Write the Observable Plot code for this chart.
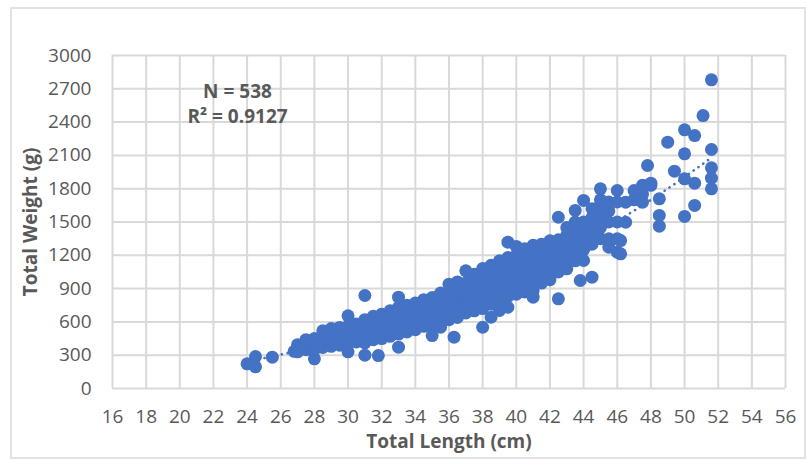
<!DOCTYPE html>
<html>
<head>
<meta charset="utf-8">
<script src="https://cdn.jsdelivr.net/npm/d3@7"></script>
<script src="https://cdn.jsdelivr.net/npm/@observablehq/plot@0.6"></script>
<style>
  body { margin: 0; background: #fff; }
  #chart { position: relative; width: 806px; height: 459px; }
  #border { position: absolute; left: 10px; top: 7px; width: 792px; height: 448px; border: 2px solid #e2e2e2; pointer-events: none; }
  #chart svg { position: absolute; left: 0; top: 0; }
</style>
</head>
<body>
<div id="chart"><div id="border"></div></div>
<script>
// Total length (cm) -> total weights (g), column by column
const columns = [
  [24.0, [222]], [24.5, [195, 288]], [25.5, [282]],
  [26.8, [335]], [27.0, [330, 366, 395]], [27.5, [350, 400, 440]],
  [28.0, [267, 350, 400, 450]], [28.5, [370, 420, 470, 520]],
  [29.0, [380, 430, 480, 540]], [29.5, [390, 440, 490, 550]],
  [30.0, [330, 400, 450, 500, 560, 655]], [30.5, [420, 470, 520, 580]],
  [31.0, [300, 410, 460, 510, 560, 620, 838]], [31.5, [440, 490, 540, 600, 650]],
  [31.8, [297]], [32.0, [450, 500, 550, 610, 670]], [32.5, [470, 520, 580, 640, 700]],
  [33.0, [372, 490, 540, 600, 660, 730, 823]], [33.5, [510, 570, 630, 690, 750]],
  [34.0, [530, 590, 650, 710, 770]], [34.5, [560, 620, 680, 740, 800]],
  [35.0, [477, 560, 620, 690, 750, 820]], [35.5, [552, 600, 660, 720, 790, 860]],
  [36.0, [620, 680, 740, 800, 870, 940]], [36.3, [462]],
  [36.5, [640, 700, 760, 830, 900, 960]], [37.0, [680, 740, 810, 880, 950, 1060]],
  [37.5, [700, 770, 840, 910, 980, 1030]], [38.0, [552, 720, 790, 860, 930, 1000, 1080]],
  [38.5, [642, 760, 830, 900, 970, 1040, 1110]], [39.0, [703, 800, 870, 940, 1010, 1080, 1150]],
  [39.5, [732, 830, 900, 970, 1040, 1110, 1180, 1318]], [40.0, [850, 920, 990, 1060, 1130, 1200, 1280]],
  [40.5, [870, 940, 1010, 1080, 1150, 1220, 1260]], [41.0, [823, 880, 940, 1000, 1070, 1140, 1210, 1290]],
  [41.5, [950, 1020, 1090, 1160, 1230, 1300]], [42.0, [980, 1050, 1120, 1190, 1260, 1330]],
  [42.5, [808, 1050, 1120, 1190, 1260, 1340, 1543]], [43.0, [1078, 1150, 1220, 1300, 1380, 1450]],
  [43.5, [1150, 1230, 1310, 1400, 1500, 1604]], [43.8, [973]],
  [44.0, [1153, 1250, 1340, 1420, 1500, 1694]], [44.5, [1003, 1300, 1380, 1460, 1540, 1620]],
  [45.0, [1350, 1450, 1550, 1650, 1700, 1799]], [45.5, [1273, 1349, 1500, 1600, 1680]],
  [46.0, [1228, 1349, 1500, 1680, 1784]], [46.2, [1213, 1333]], [46.5, [1498, 1679]],
  [47.0, [1700, 1784]], [47.5, [1679, 1750, 1830]], [47.8, [2009]], [48.0, [1830, 1850]],
  [48.5, [1462, 1559, 1709]], [49.0, [2219]], [49.4, [1958]],
  [50.0, [1550, 1889, 2114, 2330]], [50.6, [1649, 1850, 2279]], [51.1, [2459]],
  [51.6, [1799, 1895, 1988, 2153, 2781]]
];
const xTicks = [16, 18, 20, 22, 24, 26, 28, 30, 32, 34, 36, 38, 40, 42, 44, 46, 48, 50, 52, 54, 56];
const yTicks = [0, 300, 600, 900, 1200, 1500, 1800, 2100, 2400, 2700, 3000];
const annotation = ["N = 538\nR\u00b2 = 0.9127"];
const xTitle = ["Total Length (cm)"];
const yTitle = ["Total Weight (g)"];

const points = columns.flatMap(([L, ws]) => ws.map(w => ({L, W: w})));

// power trendline (least squares in log-log space), like Excel's
const lx = points.map(p => Math.log(p.L)), ly = points.map(p => Math.log(p.W));
const mx = d3.mean(lx), my = d3.mean(ly);
const b = d3.sum(lx, (v, i) => (v - mx) * (ly[i] - my)) / d3.sum(lx, v => (v - mx) ** 2);
const a = Math.exp(my - b * mx);
const [minL, maxL] = d3.extent(points, p => p.L);
const trend = d3.range(minL, maxL + 1e-9, (maxL - minL) / 80).map(L => ({L, W: a * L ** b}));

const blue = "#4472C4";
const grey = "#595959";

const chart = Plot.plot({
  width: 806,
  height: 459,
  marginLeft: 112,
  marginRight: 21,
  marginTop: 55,
  marginBottom: 71,
  style: {fontFamily: "'Open Sans', sans-serif", fontSize: "19px", color: grey, background: "transparent"},
  x: {domain: [16, 56]},
  y: {domain: [0, 3000]},
  marks: [
    Plot.gridX(xTicks, {stroke: "#d9d9d9", strokeOpacity: 1, strokeWidth: 2}),
    Plot.gridY(yTicks, {stroke: "#d9d9d9", strokeOpacity: 1, strokeWidth: 2}),
    Plot.axisX(xTicks, {tickSize: 0, tickPadding: 21, label: null, fill: grey, tickFormat: d => String(d)}),
    Plot.axisY(yTicks, {tickSize: 0, tickPadding: 21, label: null, fill: grey, tickFormat: d => String(d)}),
    Plot.dot(points, {x: "L", y: "W", r: 6.5, fill: blue, stroke: null}),
    Plot.line(trend, {x: "L", y: "W", stroke: blue, strokeWidth: 2.6, strokeDasharray: "0.1 5.8", strokeLinecap: "round"}),
    Plot.text(annotation, {frameAnchor: "top-left", dx: 125, dy: 24, lineAnchor: "top", textAnchor: "middle", lineHeight: 1.35, fontWeight: "bold", fontSize: 19, fill: grey}),
    Plot.text(xTitle, {frameAnchor: "bottom", dy: 53, lineAnchor: "middle", textAnchor: "middle", fontWeight: "bold", fontSize: 19, fill: grey}),
    Plot.text(yTitle, {frameAnchor: "left", dx: -82, rotate: -90, lineAnchor: "middle", textAnchor: "middle", fontWeight: "bold", fontSize: 19, fill: grey})
  ]
});
document.getElementById("chart").appendChild(chart);
</script>
</body>
</html>
